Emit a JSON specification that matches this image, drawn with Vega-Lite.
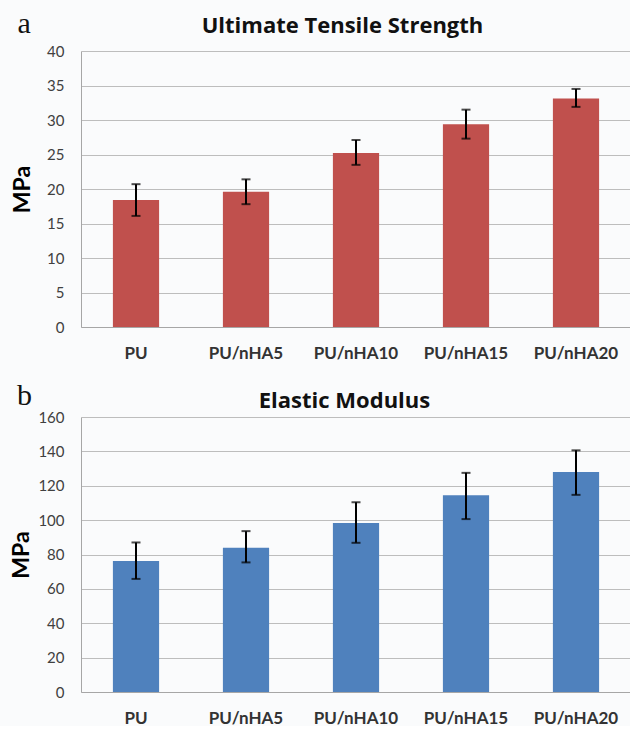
{
  "$schema": "https://vega.github.io/schema/vega-lite/v6.json",
  "background": "#fafbfc",
  "padding": {"left": 10, "top": 9, "right": 0, "bottom": 0},
  "spacing": 20,
  "config": {
    "font": "Lato",
    "view": {"stroke": null},
    "axis": {"gridColor": "#bdbdbd", "domainColor": "#a6a6a6", "labelColor": "#404040"}
  },
  "datasets": {
    "uts": [
      {"sample": "PU", "mean": 18.4, "lo": 16.1, "hi": 20.7},
      {"sample": "PU/nHA5", "mean": 19.6, "lo": 17.8, "hi": 21.4},
      {"sample": "PU/nHA10", "mean": 25.2, "lo": 23.5, "hi": 27.1},
      {"sample": "PU/nHA15", "mean": 29.4, "lo": 27.3, "hi": 31.5},
      {"sample": "PU/nHA20", "mean": 33.1, "lo": 31.9, "hi": 34.5}
    ],
    "em": [
      {"sample": "PU", "mean": 76.2, "lo": 65.8, "hi": 87.0},
      {"sample": "PU/nHA5", "mean": 84.0, "lo": 75.4, "hi": 93.6},
      {"sample": "PU/nHA10", "mean": 98.3, "lo": 86.8, "hi": 110.4},
      {"sample": "PU/nHA15", "mean": 114.5, "lo": 100.6, "hi": 127.5},
      {"sample": "PU/nHA20", "mean": 128.0, "lo": 114.7, "hi": 140.6}
    ]
  },
  "vconcat": [
    {
      "width": 550,
      "height": 276,
      "data": {"name": "uts"},
      "title": {"text": "a", "anchor": "start", "frame": "bounds", "font": "Liberation Serif", "fontSize": 30, "fontWeight": "normal", "color": "#111", "offset": -25, "dx": 6},
      "resolve": {"axis": {"x": "independent", "y": "independent"}},
      "layer": [
        {
          "mark": {"type": "bar", "color": "#c0504d"},
          "encoding": {
            "x": {"field": "sample", "type": "nominal", "sort": null,
              "scale": {"paddingInner": 0.58, "paddingOuter": 0.29},
              "axis": {"orient": "bottom", "title": null, "labelAngle": 0, "labelFontSize": 17, "labelFontWeight": "bold", "labelColor": "#333", "labelPadding": 18, "ticks": false, "domain": true}},
            "y": {"field": "mean", "type": "quantitative",
              "scale": {"domain": [0, 40]},
              "axis": {"values": [0, 5, 10, 15, 20, 25, 30, 35, 40], "title": "MPa", "titleFontSize": 23, "titleFontWeight": "bold", "titleColor": "#000", "titlePadding": 12, "labelFontSize": 15, "labelPadding": 17, "ticks": false, "domain": true, "grid": true}}
          }
        },
        {
          "mark": {"type": "rule", "color": "#000", "strokeWidth": 2},
          "encoding": {
            "x": {"field": "sample", "type": "nominal", "sort": null,
              "axis": {"orient": "top", "title": "Ultimate Tensile Strength", "titleFont": "Open Sans", "titleFontSize": 22, "titleFontWeight": "bold", "titleColor": "#111", "titleX": 261, "titleY": -19, "titleBaseline": "alphabetic", "titleAnchor": "middle", "titleAlign": "center", "labels": false, "ticks": false, "domain": false, "grid": false}},
            "y": {"field": "lo", "type": "quantitative", "axis": null},
            "y2": {"field": "hi"}
          }
        },
        {
          "mark": {"type": "tick", "color": "#000", "size": 9, "thickness": 2},
          "encoding": {
            "x": {"field": "sample", "type": "nominal", "sort": null, "axis": null},
            "y": {"field": "lo", "type": "quantitative", "axis": null}
          }
        },
        {
          "mark": {"type": "tick", "color": "#000", "size": 9, "thickness": 2},
          "encoding": {
            "x": {"field": "sample", "type": "nominal", "sort": null, "axis": null},
            "y": {"field": "hi", "type": "quantitative", "axis": null}
          }
        }
      ]
    },
    {
      "width": 550,
      "height": 275,
      "data": {"name": "em"},
      "title": {"text": "b", "anchor": "start", "frame": "bounds", "font": "Liberation Serif", "fontSize": 30, "fontWeight": "normal", "color": "#111", "offset": -22, "dx": 6},
      "resolve": {"axis": {"x": "independent", "y": "independent"}},
      "layer": [
        {
          "mark": {"type": "bar", "color": "#4f81bd"},
          "encoding": {
            "x": {"field": "sample", "type": "nominal", "sort": null,
              "scale": {"paddingInner": 0.58, "paddingOuter": 0.29},
              "axis": {"orient": "bottom", "title": null, "labelAngle": 0, "labelFontSize": 17, "labelFontWeight": "bold", "labelColor": "#333", "labelPadding": 18, "ticks": false, "domain": true}},
            "y": {"field": "mean", "type": "quantitative",
              "scale": {"domain": [0, 160]},
              "axis": {"values": [0, 20, 40, 60, 80, 100, 120, 140, 160], "title": "MPa", "titleFontSize": 23, "titleFontWeight": "bold", "titleColor": "#000", "titlePadding": 4, "labelFontSize": 15, "labelPadding": 17, "ticks": false, "domain": true, "grid": true}}
          }
        },
        {
          "mark": {"type": "rule", "color": "#000", "strokeWidth": 2},
          "encoding": {
            "x": {"field": "sample", "type": "nominal", "sort": null,
              "axis": {"orient": "top", "title": "Elastic Modulus", "titleFont": "Open Sans", "titleFontSize": 22, "titleFontWeight": "bold", "titleColor": "#111", "titleX": 263, "titleY": -10, "titleBaseline": "alphabetic", "titleAnchor": "middle", "titleAlign": "center", "labels": false, "ticks": false, "domain": false, "grid": false}},
            "y": {"field": "lo", "type": "quantitative", "axis": null},
            "y2": {"field": "hi"}
          }
        },
        {
          "mark": {"type": "tick", "color": "#000", "size": 9, "thickness": 2},
          "encoding": {
            "x": {"field": "sample", "type": "nominal", "sort": null, "axis": null},
            "y": {"field": "lo", "type": "quantitative", "axis": null}
          }
        },
        {
          "mark": {"type": "tick", "color": "#000", "size": 9, "thickness": 2},
          "encoding": {
            "x": {"field": "sample", "type": "nominal", "sort": null, "axis": null},
            "y": {"field": "hi", "type": "quantitative", "axis": null}
          }
        }
      ]
    }
  ]
}
